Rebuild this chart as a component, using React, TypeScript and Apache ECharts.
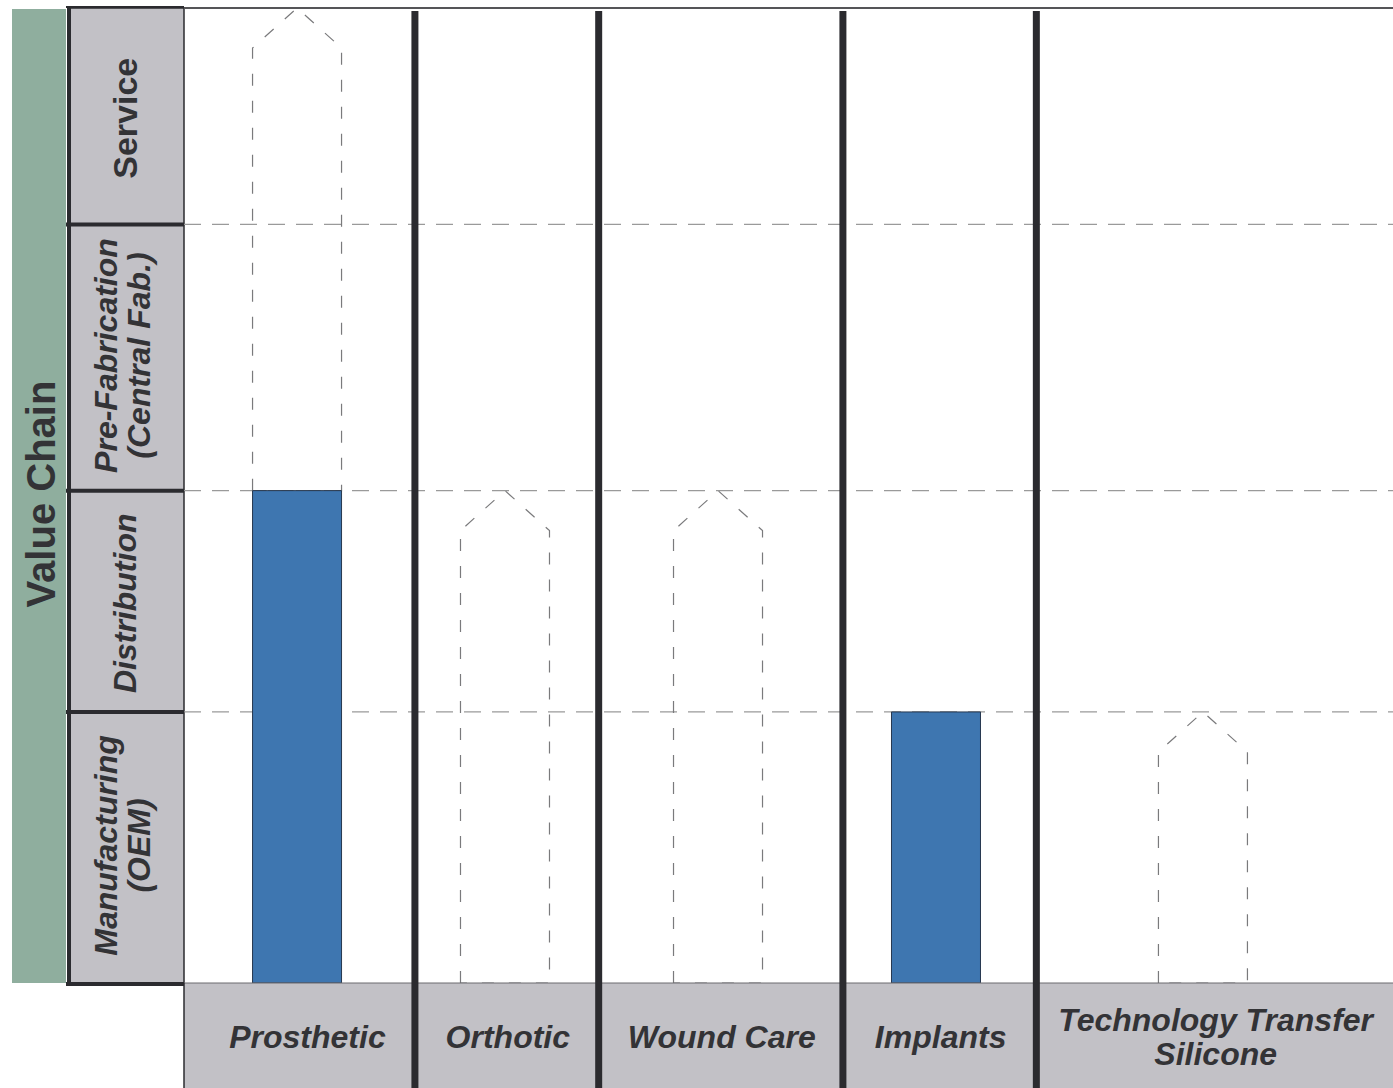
import React, { useEffect, useRef } from "react";
import * as echarts from "echarts";

// Value-chain stages (bottom to top) and their boundaries on the vertical scale (0-100)
const stages = ["Manufacturing\n(OEM)", "Distribution", "Pre-Fabrication\n(Central Fab.)", "Service"];
const stageItalic = [true, true, true, false];
const stageBounds = [0, 27.8, 50.5, 77.8, 100];

// Business columns and their boundaries on the horizontal scale (0-100)
const columns = ["Prosthetic", "Orthotic", "Wound Care", "Implants", "Technology Transfer\nSilicone"];
const columnBounds = [0, 19.1, 34.3, 54.5, 70.5, 100];
const barCenters = [9.35, 26.55, 44.17, 62.2, 84.28];
// stage index reached today (solid bar) and targeted (dashed arrow)
const currentLevel = [2, 0, 0, 1, 0];
const targetLevel = [4, 2, 2, 1, 1];

const FONT = "'Liberation Sans', Arial, sans-serif";
const DARK = "#2b2b2f";
const GRAY = "#c2c1c6";
const TEXT = "#333336";
const BAR_W = 89;
const HEAD = 40;

export default function App() {
  const ref = useRef<HTMLDivElement>(null);
  useEffect(() => {
    if (!ref.current) return;
    const chart = echarts.init(ref.current, undefined, { renderer: "svg" });

    const stageSeries = {
      type: "custom",
      z: 1,
      clip: false,
      data: stages.map((_, i) => [0, stageBounds[i]]),
      encode: { x: 0, y: 1 },
      renderItem: (params: any, api: any) => {
        const i = params.dataIndex;
        const yBot = api.coord([0, stageBounds[i]])[1];
        const yTop = api.coord([0, stageBounds[i + 1]])[1];
        const xL = api.coord([0, 0])[0];
        const xR = api.coord([100, 0])[0];
        const twoLines = stages[i].indexOf("\n") >= 0;
        const children: any[] = [];
        children.push({
          type: "rect",
          shape: { x: 68, y: yTop, width: xL - 68, height: yBot - yTop },
          style: { fill: GRAY, stroke: DARK, lineWidth: 1.5 },
        });
        children.push({
          type: "text",
          x: twoLines ? 122 : 125,
          y: (yTop + yBot) / 2 + (twoLines ? -2 : 2),
          rotation: Math.PI / 2,
          style: {
            text: stages[i],
            font: `${stageItalic[i] ? "italic " : ""}bold ${stageItalic[i] ? 32 : 34}px ${FONT}`,
            fill: TEXT,
            align: "center",
            verticalAlign: "middle",
            lineHeight: 33,
          },
        });
        // thick separator at bottom of this stage box
        children.push({
          type: "line",
          shape: { x1: 66, y1: yBot + (i === 0 ? 1 : 0), x2: xL, y2: yBot + (i === 0 ? 1 : 0) },
          style: { stroke: DARK, lineWidth: 4 },
        });
        // left thick border
        children.push({
          type: "line",
          shape: { x1: 69, y1: yTop, x2: 69, y2: yBot + 3 },
          style: { stroke: DARK, lineWidth: 4 },
        });
        if (i > 0) {
          children.push({
            type: "line",
            shape: { x1: xL, y1: yBot, x2: xR, y2: yBot },
            style: { stroke: "#9a9a9a", lineWidth: 1.3, lineDash: [17, 11] },
          });
        }
        if (i === stages.length - 1) {
          children.push({
            type: "line",
            shape: { x1: 66, y1: yTop - 1, x2: xL, y2: yTop - 1 },
            style: { stroke: DARK, lineWidth: 2 },
          });
          children.push({
            type: "line",
            shape: { x1: xL, y1: yTop, x2: xR, y2: yTop },
            style: { stroke: "#555558", lineWidth: 2 },
          });
        }
        return { type: "group", children };
      },
    };

    const markSeries = {
      type: "custom",
      z: 2,
      clip: false,
      data: barCenters.map((c) => [c, 0]),
      encode: { x: 0, y: 1 },
      renderItem: (params: any, api: any) => {
        const i = params.dataIndex;
        const cx = api.coord([barCenters[i], 0])[0];
        const y0 = api.coord([0, stageBounds[0]])[1];
        const yCur = api.coord([0, stageBounds[currentLevel[i]]])[1];
        const yTgt = api.coord([0, stageBounds[targetLevel[i]]])[1];
        const l = cx - BAR_W / 2;
        const r = cx + BAR_W / 2;
        const children: any[] = [];
        if (targetLevel[i] > currentLevel[i]) {
          children.push({
            type: "polygon",
            shape: {
              points: [
                [l, yCur],
                [l, yTgt + HEAD],
                [cx, yTgt],
                [r, yTgt + HEAD],
                [r, yCur],
              ],
            },
            style: { fill: "none", stroke: "#7a7a7c", lineWidth: 1.2, lineDash: [12, 15] },
          });
        }
        if (currentLevel[i] > 0) {
          children.push({
            type: "rect",
            shape: { x: l, y: yCur, width: BAR_W, height: y0 - yCur },
            style: { fill: "#3e76b0", stroke: "#27384f", lineWidth: 1 },
          });
        }
        return { type: "group", children };
      },
    };

    const frameSeries = {
      type: "custom",
      z: 3,
      clip: false,
      data: columns.map((_, i) => [columnBounds[i], 0]),
      encode: { x: 0, y: 1 },
      renderItem: (params: any, api: any) => {
        const i = params.dataIndex;
        const x1 = api.coord([columnBounds[i], 0])[0];
        const x2 = api.coord([columnBounds[i + 1], 0])[0];
        const yB = api.coord([0, 0])[1];
        const yT = api.coord([0, 100])[1];
        const children: any[] = [];
        children.push({
          type: "rect",
          shape: { x: x1, y: yB, width: x2 - x1, height: 1088 - yB },
          style: { fill: GRAY },
        });
        children.push({
          type: "line",
          shape: { x1: x1, y1: yB, x2: x2, y2: yB },
          style: { stroke: "#6a6a6e", lineWidth: 1 },
        });
        children.push({
          type: "text",
          x: (x1 + x2) / 2 + (i === 0 ? 8 : 1),
          y: yB + 54,
          style: {
            text: columns[i],
            font: `italic bold 32px ${FONT}`,
            fill: TEXT,
            align: "center",
            verticalAlign: "middle",
            lineHeight: 34,
          },
        });
        if (i === 0) {
          children.push({
            type: "line",
            shape: { x1: x1, y1: yB, x2: x1, y2: 1088 },
            style: { stroke: DARK, lineWidth: 1.5 },
          });
        } else {
          children.push({
            type: "line",
            shape: { x1: x1, y1: yT + 3, x2: x1, y2: 1088 },
            style: { stroke: DARK, lineWidth: 7 },
          });
        }
        return { type: "group", children };
      },
    };

    chart.setOption({
      animation: false,
      grid: { left: 184, right: 0, top: 8, bottom: 105 },
      xAxis: { type: "value", min: 0, max: 100, show: false },
      yAxis: { type: "value", min: 0, max: 100, show: false },
      graphic: [
        {
          type: "rect",
          shape: { x: 12, y: 9, width: 54, height: 974 },
          style: { fill: "#8fae9e" },
          z: 0,
        },
        {
          type: "text",
          x: 41,
          y: 494,
          rotation: Math.PI / 2,
          style: {
            text: "Value Chain",
            font: `bold 40px ${FONT}`,
            fill: TEXT,
            align: "center",
            verticalAlign: "middle",
          },
          z: 1,
        },
      ],
      series: [stageSeries, markSeries, frameSeries],
    });
    return () => chart.dispose();
  }, []);
  return (
    <div
      ref={ref}
      style={{ position: "fixed", left: 0, top: 0, width: 1393, height: 1088, background: "#fff" }}
    />
  );
}
